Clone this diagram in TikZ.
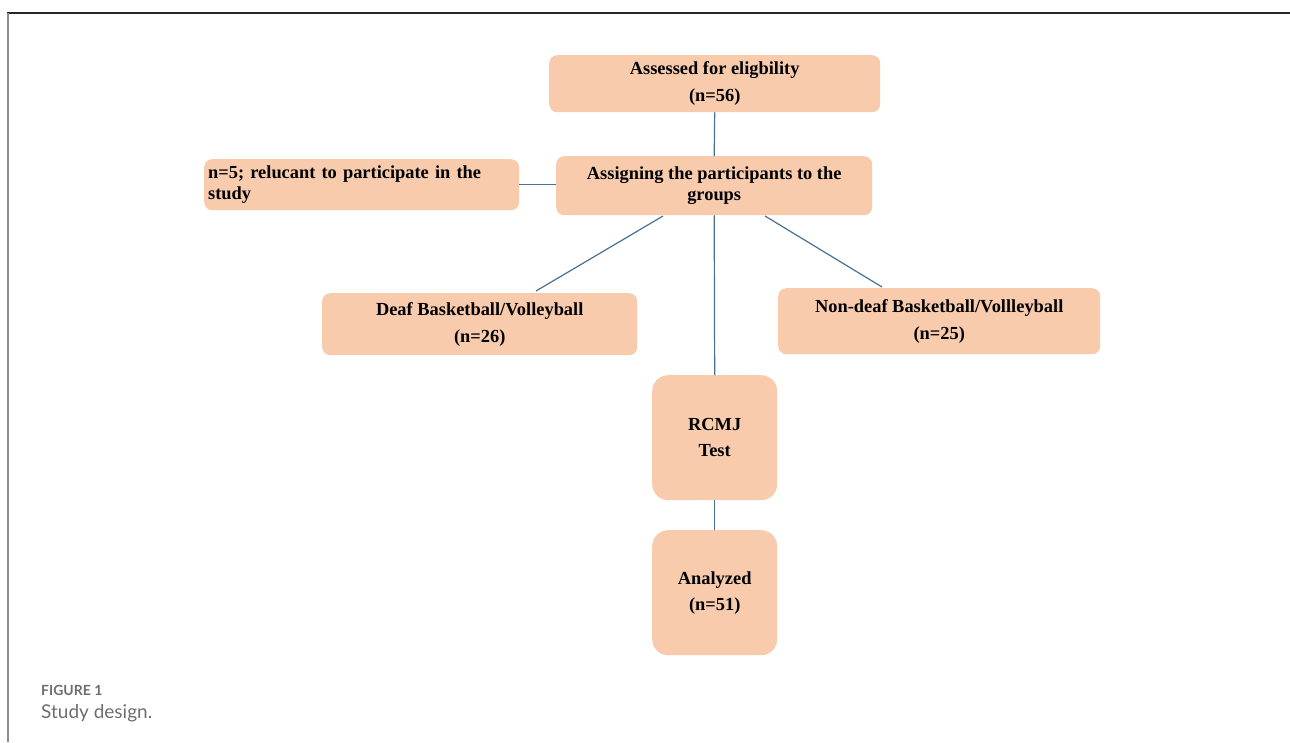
\documentclass[tikz,border=0pt]{standalone}
\usepackage{fontspec}
\setmainfont{Liberation Serif}
\newfontfamily\capfont{Lato}
\definecolor{peach}{RGB}{248,203,173}
\definecolor{link}{RGB}{72,112,150}
\definecolor{capgray}{RGB}{110,110,110}
\begin{document}
\begin{tikzpicture}[x=1pt,y=-1pt,
  box/.style={fill=peach,rounded corners=8pt,inner sep=0pt,anchor=north west,align=center,
    font=\fontsize{18.4}{20.5}\selectfont\bfseries},
  tall/.style={box,rounded corners=16pt},
  conn/.style={draw=link,line width=1.2pt}]
\useasboundingbox (0,0) rectangle (1290,742);
\draw[line width=1.5pt,color=black!85] (7,13) -- (1290,13);
\draw[line width=2pt,color=black!45] (7.5,13) -- (7.5,742);

\node[box,minimum width=331pt,minimum height=57pt] (A) at (549,55) {Assessed for eligbility\\[6.5pt](n=56)};
\node[box,minimum width=316pt,minimum height=59pt] (B) at (556,156) {Assigning the participants to the\\groups};
\node[box,minimum width=315pt,minimum height=51pt,align=left,text width=307pt] (C) at (204,159) {n=5; relucant to participate in the\\study};
\node[box,minimum width=315pt,minimum height=62pt] (D) at (322,293) {Deaf Basketball/Volleyball\\[6.5pt](n=26)};
\node[box,minimum width=322pt,minimum height=66pt] (E) at (778,288) {Non-deaf Basketball/Vollleyball\\[6.5pt](n=25)};
\node[tall,minimum width=125pt,minimum height=125pt] (F) at (652,375) {RCMJ\\[5.5pt]Test};
\node[tall,minimum width=125pt,minimum height=125pt] (G) at (652,530) {Analyzed\\[5.5pt](n=51)};

\coordinate (bd) at (663,216);
\coordinate (db) at (536,291);
\coordinate (be) at (765,216);
\coordinate (eb) at (882,287);
\draw[conn] (A.south) -- (B.north);
\draw[conn] (C.east) -- (C.east -| B.west);
\draw[conn] (bd) -- (db);
\draw[conn] (be) -- (eb);
\draw[conn] (B.south) -- (F.north);
\draw[conn] (F.south) -- (G.north);

\node[anchor=west,inner sep=0pt,text=capgray,font=\capfont\fontsize{14}{16}\selectfont\bfseries] (cap1) at (41,690) {FIGURE 1};
\node[anchor=west,inner sep=0pt,text=capgray,font=\capfont\fontsize{19}{22}\selectfont] (cap2) at (41,713) {Study design.};
\end{tikzpicture}
\end{document}
